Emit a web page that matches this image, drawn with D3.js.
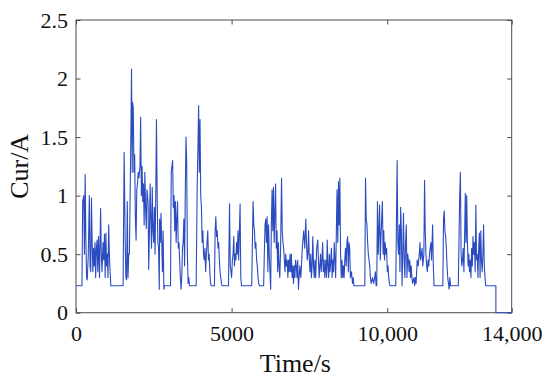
<!DOCTYPE html>
<html>
<head>
<meta charset="utf-8">
<script src="https://cdn.jsdelivr.net/npm/d3@7"></script>
<style>
  body { margin: 0; background: #ffffff; }
  svg text { font-family: "Liberation Serif", "Times New Roman", serif; }
</style>
</head>
<body>
<div id="chart"></div>
<script>
// Time stamps (s)
const timeS = [
  0, 192, 215, 248, 271, 294, 316, 339, 361, 395, 429, 452, 474, 497, 519, 542, 565, 587, 610, 632,
  655, 677, 700, 723, 756, 790, 813, 835, 869, 892, 914, 937, 960, 982, 1005, 1027, 1050, 1073, 1095, 1118,
  1513, 1547, 1581, 1603, 1626, 1648, 1671, 1694, 1716, 1739, 1761, 1784, 1806, 1818, 1840, 1863, 1885, 1908, 1931, 1953,
  1976, 1998, 2021, 2055, 2077, 2100, 2123, 2145, 2168, 2190, 2213, 2235, 2258, 2281, 2315, 2337, 2360, 2382, 2405, 2427,
  2450, 2473, 2495, 2518, 2540, 2563, 2585, 2608, 2631, 2653, 2676, 2687, 2710, 2732, 2755, 2777, 2800, 2823, 2845,
  3037, 3060, 3082, 3105, 3127, 3150, 3172, 3195, 3218, 3240, 3263, 3285, 3308, 3331, 3353, 3376, 3398, 3421, 3443, 3466,
  3489, 3511, 3534, 3556, 3579, 3602, 3624, 3647,
  3861, 3895, 3918, 3940, 3963, 3985, 4008, 4031, 4053, 4076, 4098, 4121, 4143, 4166, 4189, 4211, 4234, 4256, 4279, 4301,
  4324, 4347, 4448, 4471, 4493, 4516, 4539, 4561, 4584, 4606, 4629, 4651, 4674, 4697,
  4900, 4934, 4956, 4979, 5001, 5024, 5047, 5069, 5092, 5114, 5137, 5160, 5182, 5205, 5227, 5272, 5295, 5318,
  5645, 5690, 5713, 5735, 5758, 5780, 5803, 5826, 5848, 5871, 5893,
  6029, 6051, 6074, 6097, 6119, 6142, 6164, 6187, 6210, 6232, 6255, 6277, 6300, 6322, 6345, 6368, 6390, 6413, 6435, 6458,
  6480, 6503, 6526, 6548, 6571, 6605, 6627, 6650, 6672, 6695, 6717, 6740, 6763, 6785, 6808, 6830, 6853, 6876, 6898, 6921,
  6943, 6966, 6989, 7011, 7034, 7056, 7079, 7101, 7124, 7147, 7169, 7192, 7226, 7271, 7316, 7350, 7384, 7406, 7429, 7451,
  7474, 7497, 7519, 7542, 7564, 7587, 7609, 7632, 7655, 7677, 7700, 7734, 7768, 7790, 7813, 7835, 7858, 7880, 7903, 7926,
  7948, 7971, 7993, 8027, 8050, 8072, 8095, 8118, 8140, 8163, 8185, 8208, 8230, 8253, 8275, 8298, 8321, 8343, 8366, 8388,
  8411, 8434, 8456, 8479, 8501, 8524, 8546, 8569, 8592, 8614, 8637, 8659, 8682, 8705, 8727, 8750, 8772, 8795, 8817, 8851,
  8885, 8908, 8930,
  9280, 9303, 9326, 9348, 9371, 9393, 9416, 9438, 9461, 9484, 9529, 9563, 9597, 9619, 9642, 9664,
  9687, 9710, 9732, 9755, 9777, 9800, 9822, 9845, 9868, 9890, 9913, 9935, 9958, 9980, 10003, 10026, 10048, 10071, 10093,
  10274, 10319, 10342, 10364, 10387, 10409, 10432, 10455, 10477, 10500, 10522, 10545, 10567, 10590, 10613, 10635, 10658, 10680, 10703, 10726,
  10748, 10771, 10793, 10816, 10861, 10884, 10906, 10929, 10963, 10997, 11030, 11053, 11075, 11098, 11121, 11143, 11177, 11200, 11222, 11245,
  11267, 11290, 11313, 11335, 11358, 11380, 11403, 11425, 11459, 11482, 11505,
  11787, 11809, 11832, 11854, 11877, 11900, 11922, 11945, 11967, 11990, 12013, 12035,
  12284, 12329, 12351, 12374, 12397, 12419, 12442, 12464, 12487, 12509, 12532, 12555, 12577, 12600, 12622, 12645, 12667, 12690, 12713, 12735,
  12758, 12780, 12803, 12826, 12848, 12871, 12893, 12916, 12938, 12961, 12984, 13006, 13029, 13051, 13074, 13096, 13119, 13142, 13164,
  13492, 13492, 14000
];

// Current (A) at each time stamp
const currentA = [
  0.23, 0.23, 0.95, 1.0, 0.5, 1.18, 0.65, 0.3, 0.28, 0.5, 1.0, 0.4, 0.35, 0.98, 0.6, 0.35, 0.55, 0.4, 0.6, 0.3,
  0.55, 0.62, 0.35, 0.65, 0.3, 0.89, 0.5, 0.35, 0.6, 0.45, 0.67, 0.3, 0.68, 0.4, 0.5, 0.3, 0.75, 0.5, 0.35, 0.23,
  0.23, 1.37, 0.6, 0.3, 0.28, 0.95, 0.3, 0.5, 0.5, 1.0, 1.45, 2.08, 1.2, 1.8, 1.75, 1.2, 1.35, 0.8, 0.62, 1.05,
  1.1, 1.2, 1.15, 1.25, 1.67, 1.0, 1.25, 0.95, 1.1, 0.75, 1.2, 0.9, 0.72, 1.05, 0.95, 0.37, 0.7, 1.1, 0.8, 0.55,
  1.07, 0.7, 0.6, 0.9, 0.5, 1.0, 1.65, 1.0, 0.6, 0.55, 0.2, 0.8, 0.6, 0.85, 0.6, 0.35, 0.7, 0.2, 0.23,
  0.23, 1.2, 1.25, 1.3, 0.9, 1.0, 0.7, 0.95, 0.6, 0.8, 0.95, 0.55, 0.6, 0.45, 0.3, 0.2, 0.3, 0.55, 0.6, 0.8,
  0.4, 1.0, 1.5, 1.3, 0.5, 0.25, 0.3, 0.23,
  0.23, 1.1, 1.4, 1.77, 1.2, 1.65, 1.0, 0.9, 0.6, 0.7, 0.5, 0.45, 0.55, 0.35, 0.5, 0.6, 0.7, 0.45, 0.5, 0.35,
  0.25, 0.23, 0.23, 0.7, 0.82, 0.65, 0.7, 0.55, 0.6, 0.45, 0.35, 0.3, 0.25, 0.23,
  0.23, 0.93, 0.4, 0.35, 0.3, 0.45, 0.5, 0.65, 0.4, 0.5, 0.45, 0.6, 0.5, 0.7, 0.45, 0.93, 0.3, 0.23,
  0.23, 0.95, 0.75, 0.7, 0.55, 0.6, 0.45, 0.4, 0.3, 0.25, 0.23,
  0.23, 0.5, 0.75, 0.8, 0.6, 0.82, 0.35, 0.75, 0.5, 0.35, 0.2, 0.75, 1.05, 0.7, 1.07, 0.6, 0.85, 1.1, 0.55, 0.7,
  0.35, 0.6, 0.4, 0.3, 0.5, 1.15, 0.7, 0.6, 0.55, 0.45, 0.35, 0.5, 0.4, 0.45, 0.3, 0.45, 0.35, 0.5, 0.35, 0.5,
  0.3, 0.4, 0.25, 0.4, 0.3, 0.45, 0.4, 0.3, 0.45, 0.2, 0.3, 0.4, 0.3, 0.55, 0.7, 0.55, 0.8, 0.6, 0.45, 0.5,
  0.7, 0.45, 0.35, 0.5, 0.3, 0.4, 0.65, 0.4, 0.3, 0.45, 0.3, 0.55, 0.62, 0.45, 0.3, 0.4, 0.5, 0.35, 0.45, 0.6,
  0.35, 0.45, 0.3, 0.45, 0.3, 0.62, 0.4, 0.3, 0.5, 0.35, 0.45, 0.55, 0.3, 0.45, 0.35, 0.6, 0.45, 0.3, 0.7, 1.05,
  0.6, 1.12, 0.75, 1.15, 0.5, 0.3, 0.45, 0.3, 0.4, 0.3, 0.45, 0.55, 0.4, 0.6, 0.65, 0.35, 0.6, 0.55, 0.3, 0.35,
  0.25, 0.3, 0.23,
  0.23, 1.15, 0.8, 0.75, 0.6, 0.5, 0.45, 0.4, 0.3, 0.25, 0.3, 0.25, 0.3, 0.35, 0.23, 0.23,
  0.95, 0.5, 0.7, 0.92, 0.45, 0.65, 0.8, 0.95, 0.5, 0.7, 0.45, 0.6, 0.5, 0.55, 0.35, 0.4, 0.3, 0.25, 0.23,
  0.23, 1.3, 0.6, 0.5, 0.75, 0.35, 0.9, 0.7, 0.23, 0.5, 0.85, 0.45, 0.3, 0.6, 0.75, 0.3, 0.5, 0.45, 0.35, 0.45,
  0.3, 0.4, 0.3, 0.25, 0.3, 0.23, 0.3, 0.25, 0.45, 0.4, 0.5, 0.6, 0.45, 0.5, 0.55, 0.4, 0.5, 1.13, 0.7, 0.5,
  0.4, 0.35, 0.45, 0.4, 0.5, 0.55, 0.6, 0.45, 0.75, 0.4, 0.23,
  0.23, 0.8, 0.87, 0.7, 0.65, 0.55, 0.4, 0.3, 0.25, 0.2, 0.3, 0.23,
  0.23, 1.0, 1.2, 0.5, 0.4, 0.45, 0.55, 0.35, 0.65, 1.02, 0.6, 1.0, 0.6, 0.4, 0.5, 0.35, 0.45, 0.3, 0.55, 0.4,
  0.65, 0.5, 0.6, 0.35, 0.92, 0.45, 0.5, 0.3, 0.55, 0.68, 0.3, 0.7, 0.45, 0.35, 0.5, 0.75, 0.4, 0.3, 0.23,
  0.23, 0, 0
];

// Axis ticks and their labels
const xTicks = [0, 5000, 10000, 14000];
const xTickLabels = ["0", "5000", "10,000", "14,000"];
const yTicks = [0, 0.5, 1, 1.5, 2, 2.5];
const yTickLabels = ["0", "0.5", "1", "1.5", "2", "2.5"];

const data = timeS.map((t, i) => ({ t: t, v: currentA[i] }));

// Dimensions
const margin = { top: 20, right: 38.3, bottom: 73.3, left: 76 };
const width = 550 - margin.left - margin.right;
const height = 386 - margin.top - margin.bottom;

const svg = d3.select("#chart")
    .append("svg")
    .attr("width", 550)
    .attr("height", 386)
    .append("g")
    .attr("transform", "translate(" + margin.left + "," + margin.top + ")");

// Set up scales
const xScale = d3.scaleLinear().domain([0, 14000]).range([0, width]);
const yScale = d3.scaleLinear().domain([0, 2.5]).range([height, 0]);

const axisColor = "#4a4a4a";

function styleAxis(g) {
    g.attr("font-size", 22);
    g.select(".domain").remove();
    g.selectAll(".tick line").attr("stroke", axisColor).attr("stroke-width", 1);
    g.selectAll(".tick text").attr("fill", "#111");
}

// Bottom and left axes with inward ticks
svg.append("g")
    .attr("transform", "translate(0," + height + ")")
    .call(d3.axisBottom(xScale).tickValues(xTicks)
        .tickFormat((d, i) => xTickLabels[i])
        .tickSizeInner(-4.5).tickSizeOuter(0).tickPadding(13))
    .call(styleAxis);

svg.append("g")
    .call(d3.axisLeft(yScale).tickValues(yTicks)
        .tickFormat((d, i) => yTickLabels[i])
        .tickSizeInner(-4.5).tickSizeOuter(0).tickPadding(8))
    .call(styleAxis);

// Mirrored ticks on top and right
svg.append("g")
    .call(d3.axisTop(xScale).tickValues(xTicks).tickFormat("")
        .tickSizeInner(-4.5).tickSizeOuter(0))
    .call(styleAxis);

svg.append("g")
    .attr("transform", "translate(" + width + ",0)")
    .call(d3.axisRight(yScale).tickValues(yTicks).tickFormat("")
        .tickSizeInner(-4.5).tickSizeOuter(0))
    .call(styleAxis);

// Box
svg.append("rect")
    .attr("width", width)
    .attr("height", height)
    .attr("fill", "none")
    .attr("stroke", axisColor)
    .attr("stroke-width", 1);

// Current trace
const line = d3.line()
    .x(d => xScale(d.t))
    .y(d => yScale(d.v));

svg.append("path")
    .datum(data)
    .attr("fill", "none")
    .attr("stroke", "#2b4cc0")
    .attr("stroke-width", 1.1)
    .attr("stroke-linejoin", "round")
    .attr("d", line);

// Axis labels
svg.append("text")
    .attr("x", width / 2 + 1.5)
    .attr("y", height + 59.5)
    .attr("text-anchor", "middle")
    .attr("font-size", 26)
    .attr("fill", "#111")
    .text("Time/s");

svg.append("text")
    .attr("transform", "translate(" + (28 - margin.left) + "," + (height / 2) + ") rotate(-90)")
    .attr("text-anchor", "middle")
    .attr("font-size", 26)
    .attr("fill", "#111")
    .text("Cur/A");
</script>
</body>
</html>
